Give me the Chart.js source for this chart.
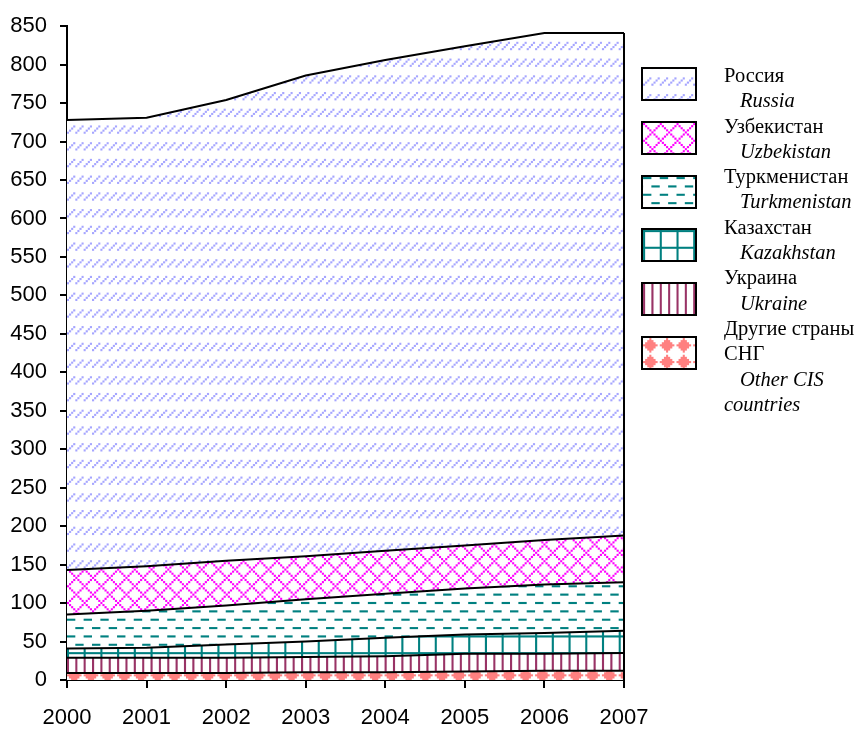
<!DOCTYPE html>
<html><head><meta charset="utf-8">
<script src="https://cdn.jsdelivr.net/npm/chart.js@4.4.1/dist/chart.umd.min.js"></script>
<style>
html,body{margin:0;padding:0;background:#fff;}
#wrap{position:relative;width:861px;height:731px;overflow:hidden;}
#c{position:absolute;left:0;top:0;}
#legend{position:absolute;left:724px;top:63px;width:146px;font-family:"Liberation Serif","Times New Roman",serif;font-size:20.5px;line-height:25.3px;color:#000;}
#legend .en{font-style:italic;text-indent:16px;}
.sw{position:absolute;box-sizing:border-box;border:2px solid #000;}
</style></head><body>
<div id="wrap"><canvas id="c" width="861" height="731"></canvas><div id="legend"></div></div>
<script>
// ---- data (bottom to top of the stack) ----
const years = ['2000','2001','2002','2003','2004','2005','2006','2007'];
const otherCIS     = [9, 9, 9, 10, 10, 11, 12, 12];
const ukraine      = [20, 20, 20, 20, 21, 23, 22, 23];
const kazakhstan   = [12, 13, 17, 20, 24, 25, 27, 29];
const turkmenistan = [44, 48, 51, 55, 57, 60, 63, 63];
const uzbekistan   = [58, 58, 58, 56, 56, 56, 58, 61];
const russia       = [585, 583, 599, 625, 638, 649, 659, 653];
const namesRu = ['Другие страны СНГ','Украина','Казахстан','Туркменистан','Узбекистан','Россия'];
const namesEn = ['Other CIS countries','Ukraine','Kazakhstan','Turkmenistan','Uzbekistan','Russia'];
const yTickValues = [0,50,100,150,200,250,300,350,400,450,500,550,600,650,700,750,800,850];

// ---- 8x8 hatch bitmaps ----
const bitsOther = ['...X....','..XXX...','.XXXXX..','XXXXXXX.','.XXXXX..','..XXX...','...X....','........'];
const bitsUkr   = ['X...X...','X...X...','X...X...','X...X...','X...X...','X...X...','X...X...','X...X...'];
const bitsKaz   = ['XXXXXXXX','X.......','X.......','X.......','X.......','X.......','X.......','X.......'];
const bitsTurk  = ['XXXX....','........','........','........','....XXXX','........','........','........'];
const bitsUzb   = ['X.......','.X.....X','..X...X.','...X.X..','....X...','...X.X..','..X...X.','.X.....X'];
const bitsRus   = ['........','........','........','........','...X...X','..X...X.','.X...X..','X...X...'];
const colors = ['#FF8080','#993366','#008080','#008080','#FF00FF','#A5A5FF'];
const bitmaps = [bitsOther, bitsUkr, bitsKaz, bitsTurk, bitsUzb, bitsRus];
const series = [otherCIS, ukraine, kazakhstan, turkmenistan, uzbekistan, russia];
const offsets = [[0,-0.8],[0,0],[0,0],[0,0],[0,0],[0,0]];

const S = 2.09, K = 2;
function tile(bits, fg) {
  const t = document.createElement('canvas'); t.width = 8*K; t.height = 8*K;
  const g = t.getContext('2d');
  g.fillStyle = '#fff'; g.fillRect(0,0,8*K,8*K);
  g.fillStyle = fg;
  for (let y=0;y<8;y++) for (let x=0;x<8;x++) if (bits[y][x]==='X') g.fillRect(x*K,y*K,K,K);
  return t;
}
function makePattern(targetCtx, bits, fg, ox, oy) {
  const p = targetCtx.createPattern(tile(bits, fg), 'repeat');
  p.setTransform(new DOMMatrix([S/K,0,0,S/K,ox||0,oy||0]));
  return p;
}

const canvas = document.getElementById('c');
const ctx = canvas.getContext('2d');

const datasets = series.map((d,i) => ({
  label: namesRu[i],
  data: d,
  fill: i === 0 ? 'origin' : '-1',
  backgroundColor: makePattern(ctx, bitmaps[i], colors[i], offsets[i][0], offsets[i][1]),
  borderColor: '#000',
  borderWidth: 2,
  pointRadius: 0,
  tension: 0
}));

const rightEdge = {
  id: 'rightEdge',
  afterDatasetsDraw(chart) {
    const xs = chart.scales.x, ys = chart.scales.y;
    const last = years.length - 1;
    let total = 0; series.forEach(s => total += s[last]);
    const x = xs.getPixelForValue(last);
    const c = chart.ctx;
    c.save(); c.strokeStyle = '#000'; c.lineWidth = 2;
    c.beginPath(); c.moveTo(x, ys.getPixelForValue(total)); c.lineTo(x, ys.getPixelForValue(0)); c.stroke();
    c.restore();
  }
};

new Chart(ctx, {
  type: 'line',
  data: { labels: years, datasets },
  plugins: [rightEdge],
  options: {
    responsive: false, animation: false, devicePixelRatio: 1,
    layout: { padding: { top: 21, right: 237, bottom: 0, left: 0 } },
    plugins: { legend: { display: false }, tooltip: { enabled: false } },
    elements: { line: { borderJoinStyle: 'miter' } },
    scales: {
      x: {
        type: 'category', offset: false,
        grid: { display: true, drawOnChartArea: false, drawTicks: true, tickLength: 8, color: '#000', lineWidth: 2 },
        border: { display: true, color: '#000', width: 2 },
        ticks: { color: '#000', font: { family: 'Liberation Sans', size: 22 }, padding: 17, maxRotation: 0, autoSkip: false },
        afterFit(s) { s.height = 51; }
      },
      y: {
        stacked: true, min: 0, max: 850,
        afterBuildTicks(s) { s.ticks = yTickValues.map(v => ({ value: v })); },
        grid: { display: true, drawOnChartArea: false, drawTicks: true, tickLength: 7, color: '#000', lineWidth: 2 },
        border: { display: true, color: '#000', width: 2 },
        ticks: { color: '#000', font: { family: 'Liberation Sans', size: 22 }, padding: 13 },
        afterFit(s) { s.width = 67; }
      }
    }
  }
});

// ---- legend (top of stack first) ----
const legend = document.getElementById('legend');
const wrap = document.getElementById('wrap');
for (let k = 0; k < series.length; k++) {
  const i = series.length - 1 - k;
  const item = document.createElement('div');
  const ru = document.createElement('div'); ru.textContent = namesRu[i];
  const en = document.createElement('div'); en.className = 'en'; en.textContent = namesEn[i];
  item.appendChild(ru); item.appendChild(en);
  legend.appendChild(item);
  const sw = document.createElement('canvas');
  sw.className = 'sw'; sw.width = 52; sw.height = 30;
  sw.style.left = '641px'; sw.style.top = (67 + k * 53.8) + 'px';
  const g = sw.getContext('2d');
  g.fillStyle = makePattern(g, bitmaps[i], colors[i], 0, 0);
  g.fillRect(0,0,52,30);
  wrap.appendChild(sw);
}
</script>
</body></html>
